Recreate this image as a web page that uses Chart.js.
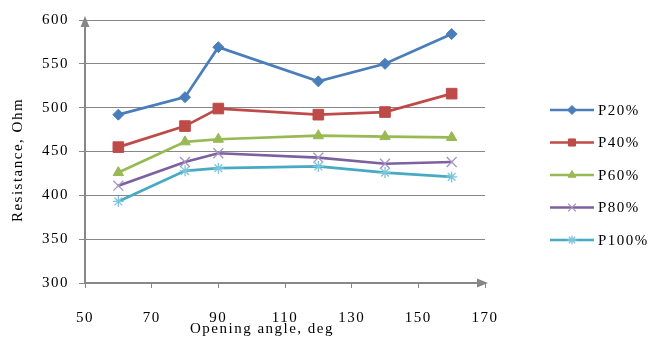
<!DOCTYPE html>
<html>
<head>
<meta charset="utf-8">
<script src="https://cdn.jsdelivr.net/npm/chart.js@4"></script>
<style>
html,body{margin:0;padding:0;background:#fff;}
#wrap{width:657px;height:338px;position:relative;}
</style>
</head>
<body>
<div id="wrap"><canvas id="c" width="657" height="338"></canvas></div>
<script>
const angles = [60, 80, 90, 120, 140, 160];
const seriesNames = ["P20%", "P40%", "P60%", "P80%", "P100%"];
const p20 = [492, 512, 569, 530, 550, 584];
const p40 = [455, 479, 499, 492, 495, 516];
const p60 = [426, 461, 464, 468, 467, 466];
const p80 = [411, 438, 448, 443, 436, 438];
const p100 = [393, 428, 431, 433, 426, 421];
const xTicks = [50, 70, 90, 110, 130, 150, 170];
const yTicks = [300, 350, 400, 450, 500, 550, 600];
const xTitle = "Opening angle, deg";
const yTitle = "Resistance, Ohm";

const FONT = "'Liberation Serif', 'Times New Roman', serif";
const FS = 15;
const LS = "1.5px";
const AXIS = "#878787";

const styles = [
  {c:"#4A7EBB", pc:"#4A7EBB", ps:"rectRot", r:5.5},
  {c:"#BE4B48", pc:"#BE4B48", ps:"rect", r:7.5},
  {c:"#98B954", pc:"#98B954", ps:"triangle", r:6},
  {c:"#7D60A0", pc:"#A792C4", ps:"crossRot", r:7},
  {c:"#46AAC5", pc:"#7CC6DC", ps:"star", r:5.5}
];
const values = [p20, p40, p60, p80, p100];

const datasets = values.map((v, i) => ({
  label: seriesNames[i],
  data: v.map((y, j) => ({x: angles[j], y: y})),
  borderColor: styles[i].c,
  backgroundColor: styles[i].pc,
  pointBorderColor: styles[i].pc,
  pointBackgroundColor: styles[i].pc,
  pointStyle: styles[i].ps,
  pointRadius: styles[i].r,
  pointBorderWidth: (i >= 3) ? 1.3 : 1,
  borderWidth: 2.7,
  tension: 0,
  fill: false
}));

const deco = {
  id: 'deco',
  beforeLayout(chart) { chart.ctx.letterSpacing = LS; },
  beforeDraw(chart) { chart.ctx.letterSpacing = LS; },
  afterDraw(chart) {
    const ctx = chart.ctx;
    const a = chart.chartArea;
    ctx.save();
    ctx.letterSpacing = LS;
    // arrows
    ctx.fillStyle = AXIS;
    ctx.beginPath();
    ctx.moveTo(a.left, a.top - 4);
    ctx.lineTo(a.left - 4.5, a.top + 7);
    ctx.lineTo(a.left + 4.5, a.top + 7);
    ctx.closePath();
    ctx.fill();
    ctx.beginPath();
    ctx.moveTo(a.right + 3, a.bottom);
    ctx.lineTo(a.right - 8, a.bottom - 4.5);
    ctx.lineTo(a.right - 8, a.bottom + 4.5);
    ctx.closePath();
    ctx.fill();
    // axis titles
    ctx.fillStyle = "#000";
    ctx.font = FS + "px " + FONT;
    ctx.textAlign = "center";
    ctx.textBaseline = "middle";
    ctx.fillText(xTitle, 262, 329);
    ctx.save();
    ctx.translate(18, 160);
    ctx.rotate(-Math.PI / 2);
    ctx.fillText(yTitle, 0, 0);
    ctx.restore();
    // legend
    ctx.textAlign = "left";
    chart.data.datasets.forEach((ds, i) => {
      const y = 110 + i * 32.5;
      ctx.strokeStyle = ds.borderColor;
      ctx.lineWidth = 2.7;
      ctx.beginPath();
      ctx.moveTo(550, y);
      ctx.lineTo(594, y);
      ctx.stroke();
      ctx.fillStyle = ds.pointBackgroundColor;
      ctx.strokeStyle = ds.pointBorderColor;
      ctx.lineWidth = ds.pointBorderWidth;
      const r = ds.pointStyle === 'rect' ? 5 : (ds.pointStyle === 'crossRot' ? 5.5 : 4.5);
      Chart.helpers.drawPoint(ctx, {pointStyle: ds.pointStyle, radius: r, rotation: 0, borderWidth: ds.pointBorderWidth}, 572, y);
      ctx.fillStyle = "#000";
      ctx.fillText(ds.label, 598, y + 1);
    });
    ctx.restore();
  }
};

new Chart(document.getElementById('c'), {
  type: 'line',
  data: {datasets: datasets},
  options: {
    responsive: false,
    animation: false,
    devicePixelRatio: 1,
    layout: {padding: {top: 20, right: 172, bottom: 0, left: 0}},
    plugins: {legend: {display: false}, tooltip: {enabled: false}},
    scales: {
      x: {
        type: 'linear',
        min: 50, max: 170,
        afterBuildTicks: s => { s.ticks = xTicks.map(v => ({value: v})); },
        afterFit: s => { s.height = 55; },
        grid: {display: true, drawOnChartArea: false, drawTicks: true, tickLength: 5, color: AXIS, lineWidth: 1},
        border: {display: true, color: AXIS, width: 2},
        ticks: {font: {family: FONT, size: FS}, color: "#000", padding: 21, maxRotation: 0}
      },
      y: {
        min: 300, max: 600,
        afterBuildTicks: s => { s.ticks = yTicks.map(v => ({value: v})); },
        afterFit: s => { s.width = 85; },
        grid: {display: true, drawOnChartArea: true, drawTicks: true, tickLength: 6, color: AXIS, lineWidth: 1},
        border: {display: true, color: AXIS, width: 2},
        ticks: {font: {family: FONT, size: FS}, color: "#000", padding: 10}
      }
    }
  },
  plugins: [deco]
});
</script>
</body>
</html>
